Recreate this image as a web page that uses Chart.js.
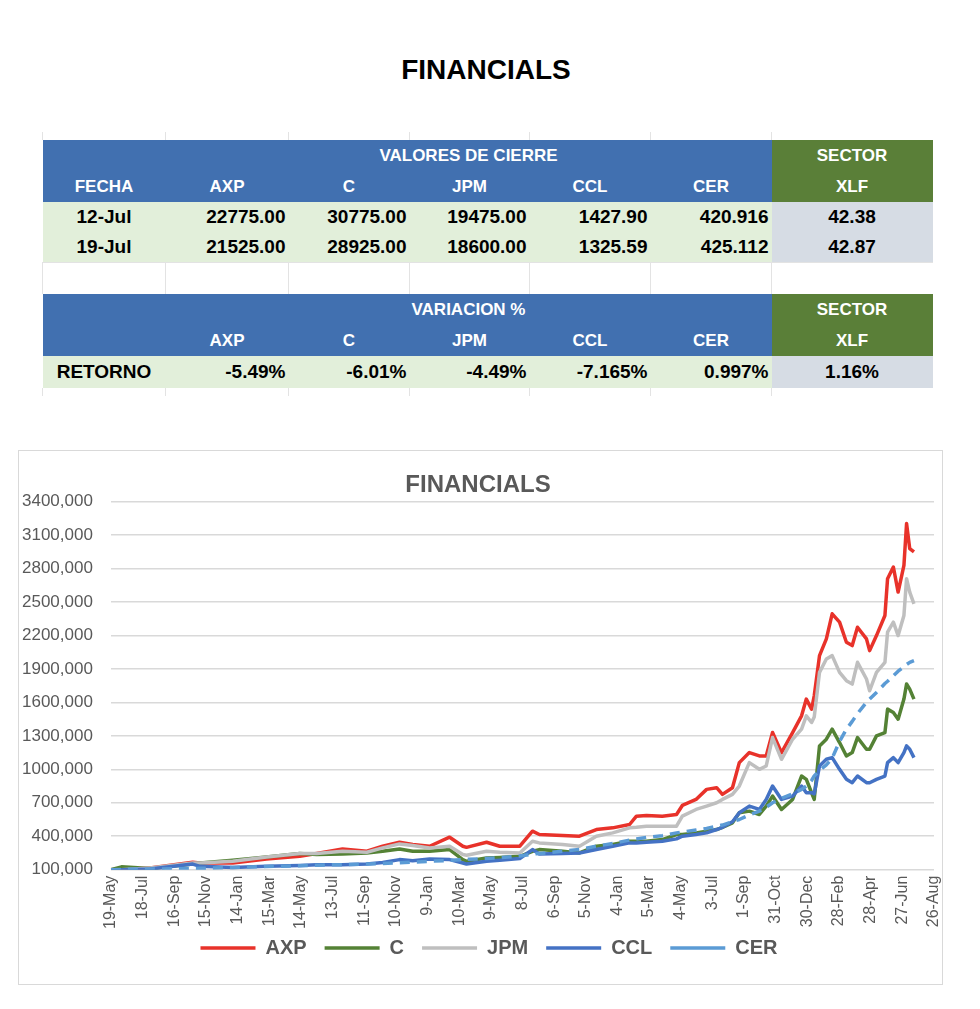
<!DOCTYPE html>
<html lang="es">
<head>
<meta charset="utf-8">
<title>FINANCIALS</title>
<script src="https://cdn.jsdelivr.net/npm/chart.js@4.4.1/dist/chart.umd.min.js"></script>
<style>
  body { margin: 0; background: #ffffff; font-family: "Liberation Sans", Arial, sans-serif; }
  #page { position: relative; width: 980px; height: 1009px; }
  h1 { position: absolute; top: 54px; left: 0; width: 972px; margin: 0; text-align: center;
       font-size: 28px; font-weight: bold; color: #000; }
  table.tabla { position: absolute; left: 42px; top: 132px; border-collapse: collapse; table-layout: fixed;
                font-weight: bold; }
  .tabla td { padding: 0 3px; white-space: nowrap; overflow: hidden; }
  .tabla .stub td { height: 8px; border-left: 1px solid #e3e3e3; }
  .tabla .hdr td { background: #4170b0; color: #fff; font-size: 17px; text-align: center; height: 31px; }
  .tabla .hdr td.sec { background: #5a7f38; }
  .tabla .dat td { background: #e2efda; color: #000; font-size: 19px; text-align: right; height: 30px; }
  .tabla .dat td.c { text-align: center; }
  .tabla .dat td.xlf { background: #d6dce4; text-align: center; }
  .tabla .dat.ret td { height: 32px; }
  .tabla .blank td { height: 31px; border-left: 1px solid #e3e3e3; border-top: 1px solid #e3e3e3; }
  #chartBox { position: absolute; left: 18px; top: 450px; width: 923px; height: 533px; border: 1px solid #d9d9d9; }
</style>
</head>
<body>
<div id="page">
  <h1>FINANCIALS</h1>
  <table class="tabla">
    <colgroup>
      <col style="width:123px"><col style="width:123px"><col style="width:121px"><col style="width:120px">
      <col style="width:121px"><col style="width:121px"><col style="width:161px">
    </colgroup>
    <tr class="stub"><td></td><td></td><td></td><td></td><td></td><td></td><td></td></tr>
    <tr class="hdr"><td></td><td colspan="5">VALORES DE CIERRE</td><td class="sec">SECTOR</td></tr>
    <tr class="hdr" id="hdrCierre"></tr>
    <tr class="dat" id="fila1"></tr>
    <tr class="dat" id="fila2"></tr>
    <tr class="blank"><td></td><td></td><td></td><td></td><td></td><td></td><td></td></tr>
    <tr class="hdr"><td></td><td colspan="5">VARIACION %</td><td class="sec">SECTOR</td></tr>
    <tr class="hdr" id="hdrVar"></tr>
    <tr class="dat ret" id="filaRet"></tr>
    <tr class="stub"><td></td><td></td><td></td><td></td><td></td><td></td><td></td></tr>
  </table>
  <div id="chartBox"><canvas id="financialsChart" width="923" height="533"></canvas></div>
</div>
<script>
// --- DATOS DE LA TABLA ---
const tickers = ['AXP', 'C', 'JPM', 'CCL', 'CER'];
const fechas = ['12-Jul', '19-Jul'];
const cierre12 = ['22775.00', '30775.00', '19475.00', '1427.90', '420.916'];
const cierre19 = ['21525.00', '28925.00', '18600.00', '1325.59', '425.112'];
const xlfCierre = ['42.38', '42.87'];
const retorno = ['-5.49%', '-6.01%', '-4.49%', '-7.165%', '0.997%'];
const xlfRetorno = '1.16%';

// --- DATOS DEL GRAFICO (dias desde el 19-May-2020) ---
const dias = [0, 20, 74, 155, 169, 231, 295, 358, 390, 439, 485, 515, 547, 572, 604, 642, 667, 674, 712, 737,
  775, 799, 812, 856, 888, 920, 951, 983, 996, 1015, 1045, 1072, 1083, 1109, 1129, 1148, 1159, 1178, 1191, 1210,
  1229, 1242, 1254, 1271, 1292, 1309, 1318, 1328, 1333, 1343, 1356, 1367, 1381, 1394, 1405, 1415, 1432, 1438, 1451, 1467,
  1472, 1483, 1492, 1503, 1508, 1514, 1522];

const axp = [100000, 105000, 115000, 166000, 160000, 160000, 196000, 220000, 244000, 286000, 265000, 310000, 346000, 325000, 310000, 391000, 310000, 300000, 346000, 310000,
  310000, 445000, 415000, 406000, 400000, 460000, 475000, 505000, 580000, 586000, 580000, 595000, 676000, 730000, 820000, 835000, 775000, 835000, 1060000, 1150000,
  1120000, 1120000, 1330000, 1150000, 1330000, 1480000, 1630000, 1540000, 1660000, 2020000, 2170000, 2395000, 2320000, 2140000, 2110000, 2275000, 2170000, 2065000, 2200000, 2380000,
  2710000, 2815000, 2590000, 2830000, 3205000, 2980000, 2950000];

const citi = [100000, 125000, 110000, 150000, 160000, 184000, 214000, 244000, 235000, 241000, 250000, 265000, 286000, 265000, 265000, 280000, 190000, 175000, 205000, 210000,
  220000, 265000, 280000, 265000, 250000, 310000, 325000, 355000, 355000, 355000, 370000, 415000, 415000, 430000, 445000, 460000, 480000, 520000, 610000, 625000,
  595000, 670000, 760000, 640000, 730000, 940000, 910000, 790000, 730000, 1210000, 1270000, 1360000, 1240000, 1120000, 1150000, 1285000, 1180000, 1180000, 1300000, 1330000,
  1540000, 1510000, 1450000, 1630000, 1765000, 1720000, 1630000];

const jpm = [100000, 100000, 115000, 160000, 160000, 175000, 214000, 244000, 244000, 265000, 256000, 295000, 331000, 316000, 295000, 310000, 235000, 230000, 265000, 256000,
  250000, 355000, 340000, 325000, 310000, 400000, 430000, 475000, 480000, 490000, 490000, 490000, 580000, 640000, 670000, 700000, 730000, 775000, 850000, 1060000,
  1000000, 1030000, 1285000, 1090000, 1270000, 1360000, 1480000, 1420000, 1470000, 1870000, 1990000, 2020000, 1870000, 1795000, 1765000, 1960000, 1810000, 1705000, 1870000, 1960000,
  2230000, 2320000, 2200000, 2380000, 2710000, 2590000, 2485000];

const ccl = [100000, 100000, 105000, 150000, 130000, 120000, 130000, 138000, 145000, 145000, 150000, 165000, 190000, 180000, 195000, 190000, 160000, 150000, 175000, 185000,
  200000, 280000, 240000, 244000, 250000, 280000, 310000, 340000, 340000, 346000, 355000, 376000, 400000, 415000, 430000, 460000, 480000, 530000, 610000, 670000,
  640000, 730000, 850000, 730000, 760000, 850000, 790000, 790000, 780000, 1030000, 1090000, 1105000, 1000000, 910000, 880000, 940000, 880000, 880000, 910000, 940000,
  1060000, 1105000, 1060000, 1150000, 1210000, 1180000, 1105000];

const cer = [100000, 102000, 105000, 110000, 112000, 120000, 128000, 135000, 140000, 145000, 150000, 155000, 162000, 168000, 175000, 183000, 190000, 192000, 200000, 207000,
  222000, 240000, 245000, 265000, 280000, 310000, 335000, 365000, 375000, 390000, 405000, 430000, 438000, 455000, 470000, 490000, 500000, 530000, 550000, 590000,
  625000, 660000, 700000, 740000, 780000, 820000, 850000, 900000, 940000, 990000, 1040000, 1100000, 1250000, 1360000, 1430000, 1500000, 1600000, 1630000, 1690000, 1770000,
  1790000, 1840000, 1880000, 1920000, 1940000, 1960000, 1975000];

// etiquetas del eje X (cada 60 dias)
const xTickLabels = ['19-May', '18-Jul', '16-Sep', '15-Nov', '14-Jan', '15-Mar', '14-May', '13-Jul', '11-Sep',
  '10-Nov', '9-Jan', '10-Mar', '9-May', '8-Jul', '6-Sep', '5-Nov', '4-Jan', '5-Mar', '4-May', '3-Jul', '1-Sep',
  '31-Oct', '30-Dec', '28-Feb', '28-Apr', '27-Jun', '26-Aug'];

document.addEventListener('DOMContentLoaded', () => {
    // --- TABLA ---
    const td = (txt, cls) => `<td${cls ? ` class="${cls}"` : ''}>${txt}</td>`;
    document.getElementById('hdrCierre').innerHTML = td('FECHA') + tickers.map(t => td(t)).join('') + td('XLF', 'sec');
    document.getElementById('fila1').innerHTML = td(fechas[0], 'c') + cierre12.map(v => td(v)).join('') + td(xlfCierre[0], 'xlf');
    document.getElementById('fila2').innerHTML = td(fechas[1], 'c') + cierre19.map(v => td(v)).join('') + td(xlfCierre[1], 'xlf');
    document.getElementById('hdrVar').innerHTML = td('') + tickers.map(t => td(t)).join('') + td('XLF', 'sec');
    document.getElementById('filaRet').innerHTML = td('RETORNO', 'c') + retorno.map(v => td(v)).join('') + td(xlfRetorno, 'xlf');

    // --- GRAFICO ---
    const serie = (vals) => dias.map((d, i) => ({ x: d, y: vals[i] }));
    const fontFam = '"Liberation Sans", Arial, sans-serif';

    const datasets = [
        { label: 'AXP', data: serie(axp), borderColor: '#e8322a', order: 5 },
        { label: 'C', data: serie(citi), borderColor: '#548235', order: 4 },
        { label: 'JPM', data: serie(jpm), borderColor: '#bfbfbf', order: 3 },
        { label: 'CCL', data: serie(ccl), borderColor: '#4472c4', order: 2 },
        { label: 'CER', data: serie(cer), borderColor: '#5b9bd5', borderDash: [10, 7], order: 1 }
    ].map(ds => Object.assign({
        backgroundColor: ds.borderColor,
        borderWidth: 3.5,
        pointRadius: 0,
        tension: 0,
        borderJoinStyle: 'round',
        fill: false
    }, ds));

    // la leyenda de Excel queda un poco mas arriba y a la derecha
    const moverLeyenda = {
        id: 'moverLeyenda',
        afterLayout(chart) {
            const lg = chart.legend;
            lg.left += 11;
            lg.right += 11;
            lg.top -= 15;
            lg.bottom -= 15;
        }
    };

    new Chart(document.getElementById('financialsChart').getContext('2d'), {
        type: 'line',
        data: { datasets },
        plugins: [moverLeyenda],
        options: {
            responsive: false,
            animation: false,
            layout: { padding: { left: 3, right: 8, top: 0, bottom: 1 } },
            plugins: {
                title: {
                    display: true,
                    text: 'FINANCIALS',
                    color: '#595959',
                    font: { family: fontFam, size: 24, weight: 'bold', lineHeight: 1.2 },
                    padding: { top: 20, bottom: 2 }
                },
                legend: {
                    position: 'bottom',
                    labels: {
                        usePointStyle: true,
                        pointStyle: 'line',
                        pointStyleWidth: 55,
                        padding: 18,
                        color: '#595959',
                        font: { family: fontFam, size: 20, weight: 'bold' },
                        sort: (a, b) => a.datasetIndex - b.datasetIndex
                    }
                },
                tooltip: { enabled: false }
            },
            scales: {
                x: {
                    type: 'linear',
                    min: 0,
                    max: 1560,
                    grid: { display: false, drawTicks: false },
                    border: { display: false },
                    afterFit: (scale) => {
                        scale.paddingLeft = 0;
                        scale.paddingRight = 0;
                    },
                    ticks: {
                        stepSize: 60,
                        autoSkip: false,
                        minRotation: 90,
                        maxRotation: 90,
                        padding: 6,
                        color: '#595959',
                        font: { family: fontFam, size: 16 },
                        callback: (v) => xTickLabels[Math.round(v / 60)]
                    }
                },
                y: {
                    min: 100000,
                    max: 3400000,
                    grid: { color: '#d9d9d9', lineWidth: 1.5, drawTicks: false },
                    border: { display: false },
                    afterFit: (scale) => {
                        scale.width -= 18;
                    },
                    ticks: {
                        stepSize: 300000,
                        padding: 18,
                        color: '#595959',
                        font: { family: fontFam, size: 17 },
                        callback: (v) => Math.round(v / 1000) + ',000'
                    }
                }
            }
        }
    });
});
</script>
</body>
</html>
